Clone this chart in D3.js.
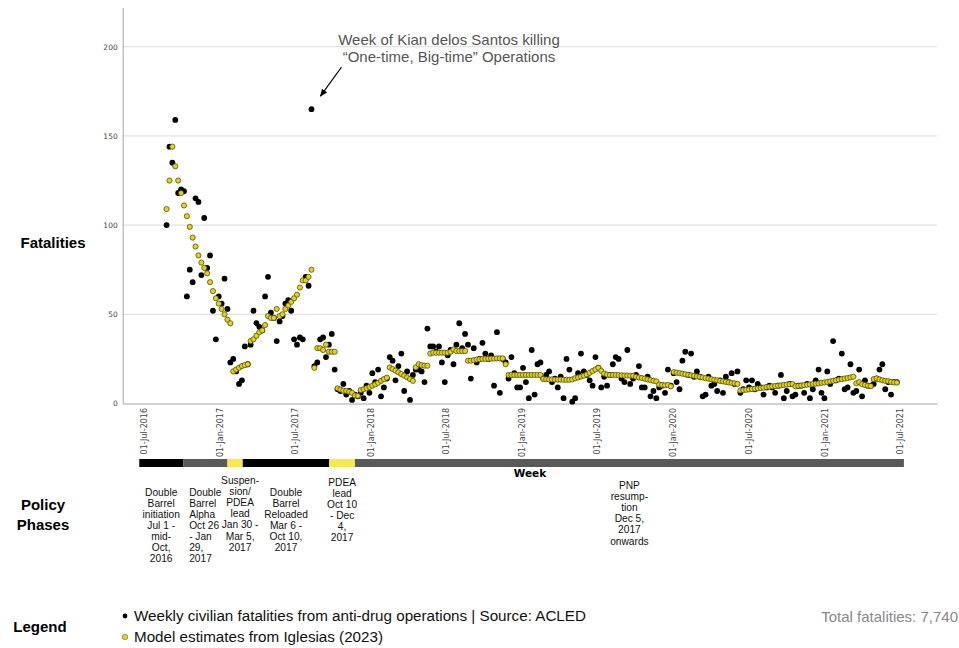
<!DOCTYPE html>
<html>
<head>
<meta charset="utf-8">
<script src="https://cdn.jsdelivr.net/npm/d3@7"></script>
<style>
  body { margin: 0; background: #fff; }
  svg { display: block; }
</style>
</head>
<body>
<div id="chart"></div>
<script>
// weekly series, first week below, one value per week
const firstWeek = "2016-08-26";

const acled = [
  100,144,135,159,118,120,119,60,75,68,
  115,113,72,104,76,83,52,36,60,56,
  70,53,23,25,18,11,13,32,22,33,
  52,45,43,41,60,71,51,48,35,46,
  49,56,58,52,36,33,37,36,71,66,
  165,21,23,36,37,26,33,39,19,8,
  7,11,5,7,2,5,4,6,3,10,
  6,17,12,19,4,9,14,26,24,13,
  21,28,7,18,2,16,19,19,18,12,
  42,32,32,29,32,23,12,27,30,22,
  33,45,31,39,33,14,31,23,25,34,
  28,25,27,10,40,6,25,23,14,26,
  17,9,9,20,12,3,30,5,22,23,
  14,16,18,12,14,9,15,3,25,19,
  1,3,17,28,18,16,13,10,26,20,
  9,15,10,16,22,26,25,14,12,30,
  11,14,16,21,9,9,15,4,7,3,
  9,10,6,19,10,17,12,8,24,29,
  16,28,15,18,15,4,5,15,10,11,
  7,13,6,15,12,17,11,18,6,8,
  13,9,13,8,11,9,5,9,10,9,
  6,10,16,3,7,11,4,5,10,10,
  6,11,3,8,13,19,6,3,18,11,
  35,13,14,28,8,9,22,6,7,19,
  4,13,10,10,11,14,19,22,8,12,
  5,12,12
];

const model = [
  109,125,144,133,125,118,111,105,99,93,
  88,83,79,76,73,68,63,59,56,53,
  50,47,45,18,19,20,21,21.5,22,35,
  36,38,40,41,44,49,48,48,53,49,
  50,53,55,57,59,61,65,69,69,71,
  75,20,31,31,30,33,29,29,29,8.5,
  7.8,7.2,7,6.6,6,4.5,4.3,7.5,8,8.6,
  9.3,10,10.7,11.6,12.7,13.7,14.5,20.2,19.3,18.4,
  17.5,16.5,15.6,14.7,13.7,12.7,20.3,22,21.5,21.2,
  21.2,28,28.5,28.5,28.5,28.5,28.5,28.5,29,30.3,
  29.5,29.4,29.4,29.4,24,24,24.3,24.6,24.8,25,
  25,25.1,25.2,25.2,25.3,25.3,25.3,22,16,16,
  16,16,16,16,16,16,16,16,16,16,
  13.8,13.6,13.5,13.5,13.4,13.4,13.4,13.3,13.3,13.3,
  13.5,14.2,14.6,15.1,15.6,16.3,17.2,18.2,19.1,20,
  18.3,16.8,16.2,16,16,16,15.9,15.8,15.7,15.7,
  15.6,15.5,15,14.6,14.3,13.9,13.5,13.1,12.7,12.4,
  10.6,10.4,10.2,10.4,9.6,17.6,17.3,17,16.7,16.4,
  16.1,15.8,15.5,15.2,14.9,14.6,14.2,13.9,13.6,13.3,
  13,12.7,12.4,12.1,11.8,11.5,11.3,11,7.3,7.5,
  7.7,7.9,8.1,8.3,8.5,8.7,8.9,9.2,9.4,9.6,
  9.8,10,10.2,10.4,10.6,10.8,10.9,9.7,9.9,10.1,
  10.3,10.5,10.7,10.9,11.1,11.3,11.6,11.8,12.1,12.4,
  12.7,13,13.4,13.7,14,14.3,14.6,15,11.3,12,
  10.8,10.4,10,9.8,13.7,14.1,13.5,13,12.7,12.5,
  12.1,11.8,11.7
];

const yTicks = [0, 50, 100, 150, 200];
const xTicks = ["2016-07-01","2017-01-01","2017-07-01","2018-01-01","2018-07-01",
                "2019-01-01","2019-07-01","2020-01-01","2020-07-01","2021-01-01","2021-07-01"];

// policy phases (bar boundaries as drawn)
const phaseBounds = ["2016-06-21","2016-10-05","2017-01-20","2017-02-26",
                     "2017-09-23","2017-11-24","2021-07-12"];
const phaseKind = ["initiation","alpha","suspension","reloaded","pdea","pnp"];
const phaseLabels = [
  ["Double","Barrel","initiation","Jul 1 -","mid-","Oct,","2016"],
  ["Double","Barrel","Alpha","Oct 26","- Jan","29,","2017"],
  ["Suspen-","sion/","PDEA","lead","Jan 30 -","Mar 5,","2017"],
  ["Double","Barrel","Reloaded","Mar 6 -","Oct 10,","2017"],
  ["PDEA","lead","Oct 10","- Dec","4,","2017"],
  ["PNP","resump-","tion","Dec 5,","2017","onwards"]
];

const annotation = ["Week of Kian delos Santos killing", "\u201cOne-time, Big-time\u201d Operations"];
const annotatedWeek = 50;
const legendItems = ["Weekly civilian fatalities from anti-drug operations | Source: ACLED",
                     "Model estimates from Iglesias (2023)"];
const totalFatalities = 7740;

/* ---------------- SETUP ---------------- */
const W = 959, H = 648;
const parse = d3.timeParse("%Y-%m-%d");
const start = parse(firstWeek);
const weeks = acled.map((v,i) => d3.timeDay.offset(start, 7*i));

const svg = d3.select("#chart").append("svg")
    .attr("width", W).attr("height", H)
    .style("font-family", "'Liberation Sans', Arial, sans-serif");

const x = d3.scaleTime()
    .domain([parse("2016-05-12"), parse("2021-09-30")])
    .range([122.7, 937]);

const y = d3.scaleLinear()
    .domain([0, 222])
    .range([403.5, 7.5]);

/* ---------------- GRID & AXES ---------------- */
svg.append("g")
    .selectAll("line")
    .data(yTicks.filter(d => d > 0))
    .join("line")
    .attr("x1", x.range()[0]).attr("x2", x.range()[1])
    .attr("y1", d => y(d)).attr("y2", d => y(d))
    .attr("stroke", "#d9d9d9").attr("stroke-width", 1);

const yAxis = svg.append("g")
    .attr("transform", `translate(${x.range()[0]},0)`)
    .call(d3.axisLeft(y).tickValues(yTicks).tickSize(0).tickSizeOuter(0).tickPadding(5));
yAxis.select(".domain").attr("stroke", "#a6a6a6");
yAxis.selectAll("text")
    .style("font-family", "'DejaVu Sans', sans-serif")
    .style("font-size", "7.5px").attr("fill", "#444");

const fmt = d3.timeFormat("%d-%b-%Y");
const xAxis = svg.append("g")
    .attr("transform", `translate(0,${y(0)})`)
    .call(d3.axisBottom(x).tickValues(xTicks.map(parse)).tickFormat(fmt)
        .tickSize(0).tickSizeOuter(0));
xAxis.select(".domain").attr("stroke", "#a6a6a6");
xAxis.selectAll("text")
    .attr("transform", "rotate(-90)")
    .attr("x", -4.5).attr("y", 0).attr("dy", ".35em")
    .style("text-anchor", "end")
    .style("font-family", "'DejaVu Sans', sans-serif")
    .style("font-size", "8px").attr("fill", "#444");

/* ---------------- POINTS ---------------- */
svg.append("g")
    .selectAll("circle")
    .data(acled)
    .join("circle")
    .attr("cx", (d,i) => x(weeks[i]))
    .attr("cy", d => y(d))
    .attr("r", 2.9)
    .attr("fill", "#000");

svg.append("g")
    .selectAll("circle")
    .data(model)
    .join("circle")
    .attr("cx", (d,i) => x(weeks[i]))
    .attr("cy", d => y(d))
    .attr("r", 2.6)
    .attr("fill", "#e8d500")
    .attr("stroke", "#3a3a28")
    .attr("stroke-width", 0.7);

/* ---------------- ANNOTATION ---------------- */
const ax = x(weeks[annotatedWeek]), ay = y(acled[annotatedWeek]);
svg.append("defs").append("marker")
    .attr("id", "arrow")
    .attr("viewBox", "0 0 10 10")
    .attr("refX", 9).attr("refY", 5)
    .attr("markerWidth", 7).attr("markerHeight", 7)
    .attr("orient", "auto")
    .append("path").attr("d", "M0,1 L10,5 L0,9 Z").attr("fill", "#000");

svg.append("line")
    .attr("x1", ax + 30).attr("y1", ay - 42)
    .attr("x2", ax + 9).attr("y2", ay - 13)
    .attr("stroke", "#000").attr("stroke-width", 1.1)
    .attr("marker-end", "url(#arrow)");

svg.append("g")
    .selectAll("text")
    .data(annotation)
    .join("text")
    .attr("x", 449).attr("y", (d,i) => 45 + i*17)
    .attr("text-anchor", "middle")
    .style("font-size", "15px").attr("fill", "#555")
    .text(d => d);

/* ---------------- POLICY PHASE BAR ---------------- */
const phaseColor = {initiation:"#000", alpha:"#595959", suspension:"#f7e84e",
                    reloaded:"#000", pdea:"#f7e84e", pnp:"#595959"};
const phases = phaseKind.map((k,i) => ({
    kind: k,
    x0: x(parse(phaseBounds[i])),
    x1: x(parse(phaseBounds[i+1])),
    lines: phaseLabels[i]
}));

svg.append("g")
    .selectAll("rect")
    .data(phases)
    .join("rect")
    .attr("x", d => d.x0).attr("width", d => d.x1 - d.x0)
    .attr("y", 459).attr("height", 8)
    .attr("fill", d => phaseColor[d.kind]);

svg.append("text")
    .attr("x", 530).attr("y", 477)
    .attr("text-anchor", "middle")
    .style("font-family", "'DejaVu Sans', sans-serif")
    .style("font-size", "10.5px").style("font-weight", "700")
    .text("Week");

// first baseline and alignment of each label block
const labelTop = [495.5, 495.5, 484, 495.5, 485.5, 489];
const labelAlign = ["middle", "start", "middle", "middle", "middle", "middle"];

phases.forEach((p,i) => {
    const tx = labelAlign[i] === "start" ? p.x0 + 6 : (p.x0 + p.x1)/2 + (i === 2 ? 5 : 0);
    svg.append("text")
        .attr("text-anchor", labelAlign[i])
        .style("font-size", "10.2px").attr("fill", "#111")
        .selectAll("tspan")
        .data(p.lines)
        .join("tspan")
        .attr("x", tx)
        .attr("y", (d,j) => labelTop[i] + j*11.1)
        .text(d => d);
});

/* ---------------- SIDE TITLES ---------------- */
const side = svg.append("g")
    .attr("text-anchor", "middle")
    .style("font-size", "15px").style("font-weight", "700");
side.append("text").attr("x", 53).attr("y", 248).text("Fatalities");
side.append("text").attr("x", 43).attr("y", 510).text("Policy");
side.append("text").attr("x", 43).attr("y", 530).text("Phases");
side.append("text").attr("x", 40).attr("y", 632).text("Legend");

/* ---------------- LEGEND ---------------- */
const leg = svg.append("g");
leg.append("circle").attr("cx", 125).attr("cy", 616).attr("r", 2.4).attr("fill", "#000");
leg.append("circle").attr("cx", 125).attr("cy", 637).attr("r", 2.8)
    .attr("fill", "#e8d500").attr("stroke", "#666").attr("stroke-width", 0.6);
leg.selectAll("text.item")
    .data(legendItems)
    .join("text")
    .attr("class", "item")
    .attr("x", 134).attr("y", (d,i) => 621 + i*21)
    .style("font-size", "15.2px").attr("fill", "#111")
    .text(d => d);

svg.append("text")
    .attr("x", 958).attr("y", 622)
    .attr("text-anchor", "end")
    .style("font-size", "15px").attr("fill", "#888")
    .text("Total fatalities: " + d3.format(",")(totalFatalities));
</script>
</body>
</html>
